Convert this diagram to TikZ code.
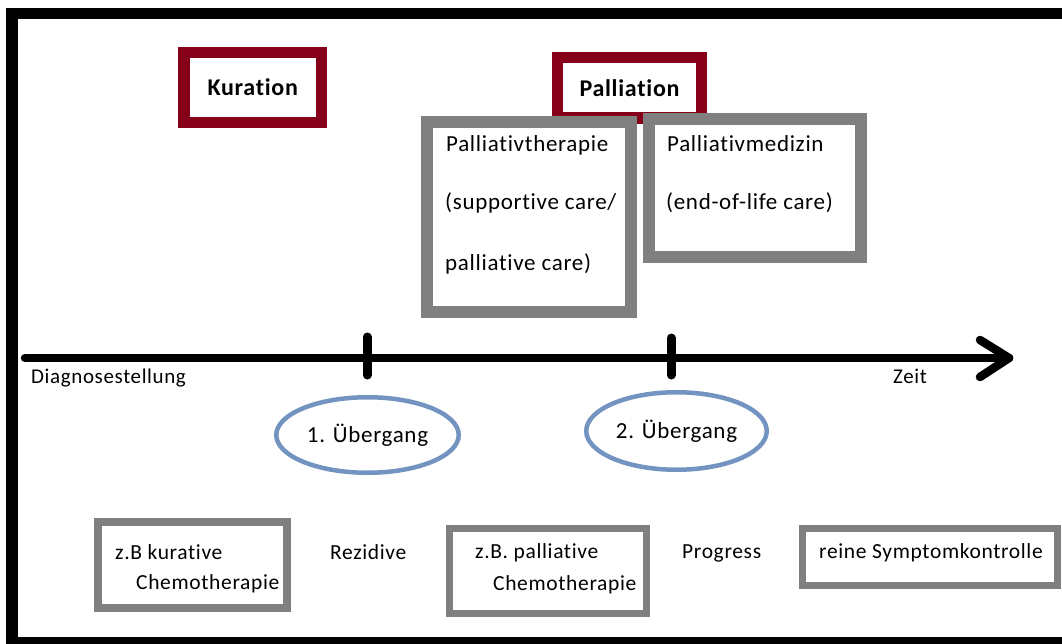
\documentclass[tikz,border=0pt]{standalone}
\usepackage{fontspec}
\setmainfont{Carlito}[LetterSpace=3,Ligatures=CommonOff]
\usetikzlibrary{shapes.geometric}
\definecolor{darkred}{RGB}{135,0,25}
\definecolor{boxgray}{RGB}{128,128,128}
\definecolor{ovalblue}{RGB}{115,148,192}
\newcommand\setfs[1]{\fontsize{#1}{#1}\selectfont}
\tikzset{
  frame/.style={draw=black, line width=11.5},
  redbox/.style={draw=darkred, line width=11.5, inner sep=0, font=\bfseries\setfs{24}},
  graybox/.style={draw=boxgray, line width=12, fill=white, inner sep=0},
  smallbox/.style={draw=boxgray, line width=7.5, inner sep=0},
  oval/.style={ellipse, draw=ovalblue, line width=4.5, inner sep=0, font=\setfs{23}},
  txt/.style={inner sep=0, anchor=base west, font=\setfs{21.5}},
  toptxt/.style={inner sep=0, anchor=base west, font=\setfs{23}},
  axis/.style={draw=black, line width=8.5, line cap=round, line join=round},
  tick/.style={draw=black, line width=9, line cap=round},
}
\begin{document}
\begin{tikzpicture}[x=1pt,y=-1pt]
\useasboundingbox (0,0) rectangle (1062,644);
\clip (0,0) rectangle (1062,644);
\fill[white] (0,0) rectangle (1062,644);
% outer frame
\draw[frame] (12,13.5) rectangle (1100,643);

% top boxes
\node[redbox, minimum width=137.5, minimum height=70] (kur) at (252.75,87.5) {Kuration};
\node[redbox, minimum width=144, minimum height=60.5] (pal) at (629.5,87.75) {Palliation};
\node[graybox, minimum width=204, minimum height=190] (ptb) at (529,217) {};
\node[graybox, minimum width=212, minimum height=138] (pmb) at (754.5,188.5) {};
\node[toptxt] (pt1) at (446,152) {Palliativtherapie};
\node[toptxt] (pt2) at (445,210) {(supportive care/};
\node[toptxt] (pt3) at (445,270) {palliative care)};
\node[toptxt] (pm1) at (667,152) {Palliativmedizin};
\node[toptxt] (pm2) at (666,210) {(end-of-life care)};

% time axis
\coordinate (start) at (25,358);
\coordinate (end) at (1009,358);
\coordinate (barbA) at (980,340);
\coordinate (barbB) at (980,377);
\draw[axis] (start) -- (end);
\draw[axis] (barbA) -- (end) -- (barbB);
\coordinate (t1a) at (367,337);
\coordinate (t1b) at (367,375);
\coordinate (t2a) at (671,338);
\coordinate (t2b) at (671,375);
\draw[tick] (t1a) -- (t1b);
\draw[tick] (t2a) -- (t2b);
\node[txt, font=\setfs{21}] (diag) at (31,383) {Diagnosestellung};
\node[txt, font=\setfs{21}] (zeit) at (893,383) {Zeit};

% transitions
\node[oval, minimum width=182.5, minimum height=75.5] (ue1) at (367.5,435) {1. Übergang};
\node[oval, minimum width=180.5, minimum height=77.5] (ue2) at (676.5,431) {2. Übergang};

% bottom boxes
\node[smallbox, minimum width=189, minimum height=86] (b1) at (192.5,565) {};
\node[smallbox, minimum width=197, minimum height=85] (b2) at (548,571) {};
\node[smallbox, minimum width=255, minimum height=57] (b3) at (930,557) {};
\node[txt] (b1a) at (115,559) {z.B kurative};
\node[txt] (b1b) at (136,589) {Chemotherapie};
\node[txt] (rez) at (330,559) {Rezidive};
\node[txt] (b2a) at (475,558) {z.B. palliative};
\node[txt] (b2b) at (493,590) {Chemotherapie};
\node[txt] (prog) at (682,558) {Progress};
\node[txt] (b3a) at (819,558) {reine Symptomkontrolle};
\end{tikzpicture}
\end{document}
